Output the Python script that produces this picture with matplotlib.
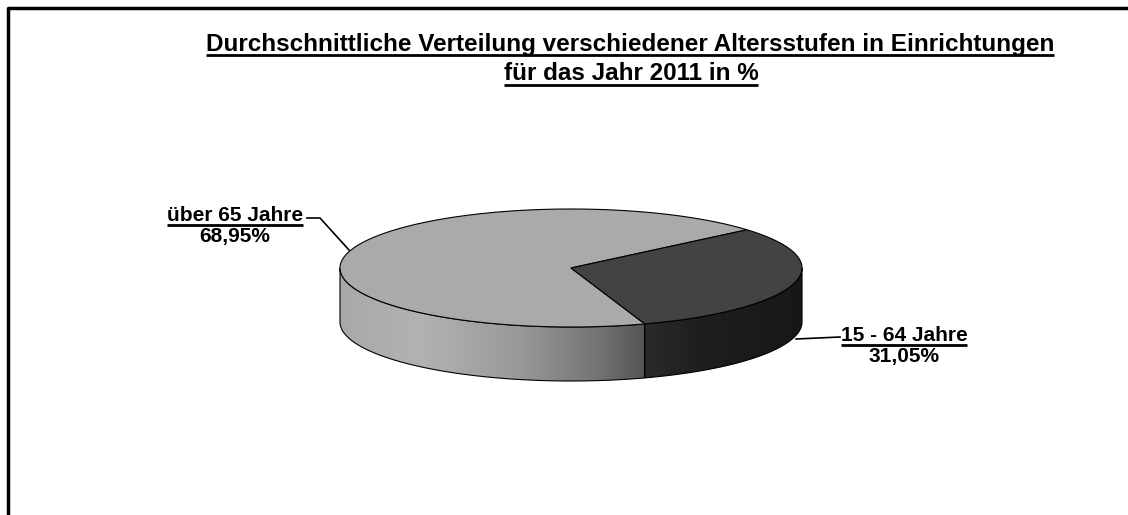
import numpy as np
import matplotlib.pyplot as plt
from matplotlib.patches import Polygon

plt.rcParams['font.family'] = ['Liberation Sans', 'DejaVu Sans']

title_lines = ["Durchschnittliche Verteilung verschiedener Altersstufen in Einrichtungen",
               "für das Jahr 2011 in %"]
labels = ["über 65 Jahre", "15 - 64 Jahre"]
values = [68.95, 31.05]
top_colors = ["#aaaaaa", "#434343"]

# pie geometry in pixel space
cx, cy = 571, 268
ra, rb = 231, 59
depth = 54
start_angle = 40.4  # boundary between the two slices, on the back-right

W, H = 1128, 515
fig = plt.figure(figsize=(W / 100, H / 100), dpi=100)
ax = fig.add_axes([0, 0, 1, 1])
ax.axis('off')

# frame (cut off at right and bottom)
ax.plot([7.5, 7.5, W + 5], [H + 5, 7.5, 7.5], color='black', lw=2.5, solid_capstyle='butt')


def arc(t1, t2, dy=0, n=200):
    ts = np.radians(np.linspace(t1, t2, n))
    return np.column_stack([cx + ra * np.cos(ts), cy - rb * np.sin(ts) + dy])


# slice angle ranges (counter clockwise)
total = sum(values)
span_light = 360 * values[0] / total
light = (start_angle, start_angle + span_light)
dark = (start_angle + span_light - 360, start_angle)
ranges = [light, dark]


# side walls with gradient
def gray_light(x):
    return np.interp(x, [340, 420, 520, 600, 645], [0.66, 0.70, 0.60, 0.45, 0.33])


def gray_dark(x):
    return np.interp(x, [640, 700, 805], [0.17, 0.12, 0.09])


xs = np.linspace(330, 810, 500)
sides = [(180, light[1], gray_light), (dark[0] % 360, 360, gray_dark)]
for t1, t2, gfun in sides:
    top = arc(t1, t2)
    bot = arc(t2, t1, depth)
    poly = Polygon(np.vstack([top, bot]), closed=True, facecolor='none',
                   edgecolor='none')
    ax.add_patch(poly)
    g = gfun(xs)
    img = np.dstack([g, g, g])
    im = ax.imshow(img, extent=[330, 810, cy + rb + depth + 5, cy - rb - 5],
                   aspect='auto', interpolation='bilinear', zorder=1)
    im.set_clip_path(poly)
    ax.add_patch(Polygon(np.vstack([top, bot]), closed=True, facecolor='none',
                         edgecolor='black', lw=0.8, zorder=2))

# top faces
for (t1, t2), col in zip(ranges, top_colors):
    verts = np.vstack([[cx, cy], arc(t1, t2)])
    ax.add_patch(Polygon(verts, closed=True, facecolor=col, edgecolor='black',
                         lw=0.8, zorder=3))

ax.set_xlim(0, W)
ax.set_ylim(H, 0)

# text with underline
fig.canvas.draw()
renderer = fig.canvas.get_renderer()
inv = ax.transData.inverted()


def underlined(x, y, s, size, off):
    t = ax.text(x, y, s, ha='center', va='baseline', fontsize=size,
                fontweight='bold', zorder=5)
    bb = t.get_window_extent(renderer=renderer)
    x0 = inv.transform((bb.x0, 0))[0]
    x1 = inv.transform((bb.x1, 0))[0]
    ax.plot([x0, x1], [y + off, y + off], color='black', lw=2.0,
            solid_capstyle='butt', zorder=5)
    return t


underlined(630, 51, title_lines[0], 17.5, 4)
underlined(631, 80, title_lines[1], 17.5, 5)

# data labels
pcts = [f"{v:.2f}%".replace('.', ',') for v in values]
underlined(235, 221, labels[0], 15, 4)
ax.text(235, 242, pcts[0], ha='center', va='baseline', fontsize=15,
        fontweight='bold')
underlined(904, 341, labels[1], 15, 4)
ax.text(904, 362, pcts[1], ha='center', va='baseline', fontsize=15,
        fontweight='bold')

# leader lines
ax.plot([307, 320, 349], [218, 218, 250], color='black', lw=1.2, zorder=4)
ax.plot([796, 840], [339, 337], color='black', lw=1.2, zorder=4)

fig.savefig('out.png', dpi=100)
